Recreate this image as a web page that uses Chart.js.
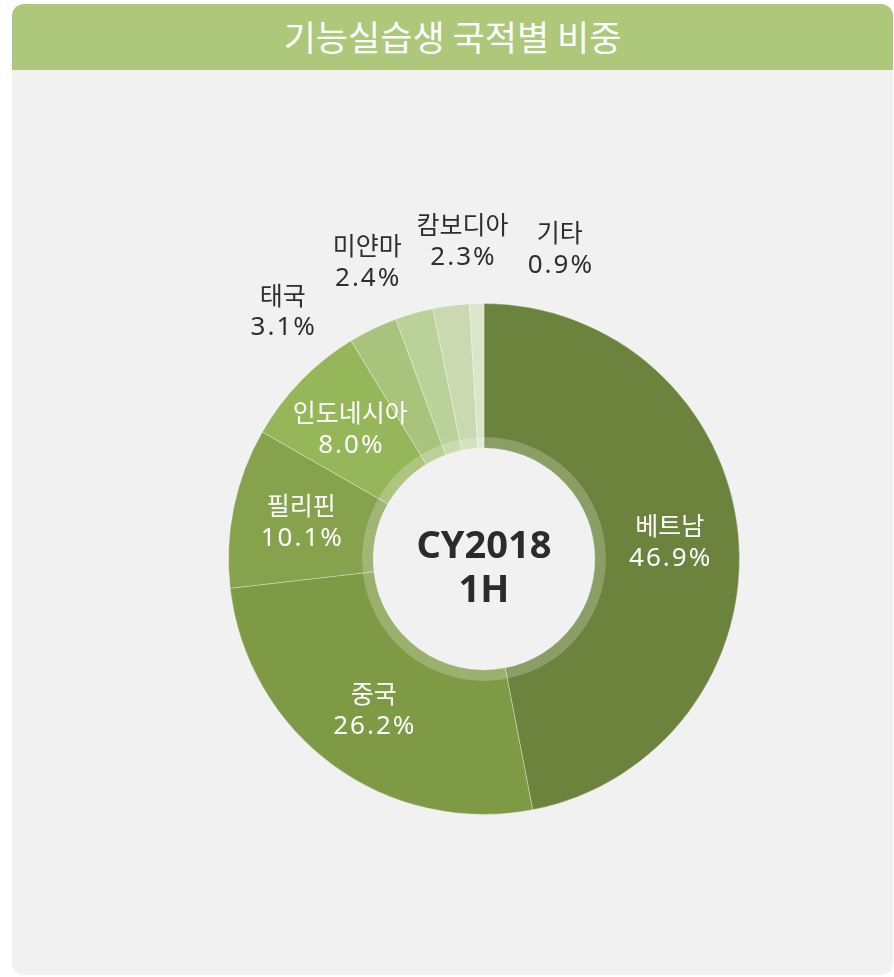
<!DOCTYPE html>
<html>
<head>
<meta charset="utf-8">
<script src="https://cdn.jsdelivr.net/npm/chart.js@4/dist/chart.umd.min.js"></script>
<style>
  html, body { margin: 0; padding: 0; background: #fff; }
  body { width: 894px; height: 977px; position: relative; overflow: hidden; font-family: "Noto Sans CJK KR", "Noto Sans", sans-serif; }
  .card { position: absolute; left: 12px; top: 4px; width: 881px; height: 971px; border-radius: 12px; overflow: hidden; background: #f1f1f1; }
  .title { height: 66px; background: #adc87a; color: #fff; font-size: 35px; line-height: 64px; text-align: center; }
  .wrap { position: absolute; left: 0; top: 66px; width: 880px; height: 905px; }
</style>
</head>
<body>
<div class="card">
  <div class="title">기능실습생 국적별 비중</div>
  <div class="wrap"><canvas id="nationChart" width="880" height="905"></canvas></div>
</div>
<script>
const countries = ['베트남', '중국', '필리핀', '인도네시아', '태국', '미얀마', '캄보디아', '기타']
const shares = [46.9, 26.2, 10.1, 8.0, 3.1, 2.4, 2.3, 0.9]
const sliceColors = ['#6b833c', '#7f9a45', '#87a24d', '#96b65a', '#a8c47c', '#bad19a', '#cad9b0', '#dbe5ca']
const centerLines = ['CY2018', '1H']

// translucent ring along the hole + center caption
const centerPlugin = {
    id: 'centerText',
    afterDatasetsDraw(chart) {
        const arc = chart.getDatasetMeta(0).data[0]
        const ctx = chart.ctx
        const r = arc.innerRadius
        ctx.save()
        ctx.beginPath()
        ctx.arc(arc.x, arc.y, r + 5.5, 0, Math.PI * 2)
        ctx.lineWidth = 11
        ctx.strokeStyle = 'rgba(255,255,255,0.22)'
        ctx.stroke()
        ctx.fillStyle = '#2b2b2b'
        ctx.font = 'bold 38px "Noto Sans", "Noto Sans CJK KR", sans-serif'
        ctx.textAlign = 'center'
        ctx.textBaseline = 'middle'
        ctx.fillText(centerLines[0], arc.x, arc.y - 12)
        ctx.fillText(centerLines[1], arc.x, arc.y + 32)
        ctx.restore()
    }
}

// labels: big slices inside (white), small ones outside (dark), spread apart
const labelPlugin = {
    id: 'sliceLabels',
    afterDatasetsDraw(chart) {
        const meta = chart.getDatasetMeta(0)
        const ctx = chart.ctx
        ctx.save()
        ctx.textAlign = 'center'
        ctx.textBaseline = 'middle'

        const outside = []
        meta.data.forEach((arc, i) => {
            const mid = (arc.startAngle + arc.endAngle) / 2
            if (shares[i] >= 5) {
                const r = arc.outerRadius * 0.73
                drawLabel(ctx, i, arc.x + Math.cos(mid) * r, arc.y + Math.sin(mid) * r, '#fff')
            } else {
                outside.push({ i, mid, arc })
            }
        })

        const gap = 17.6 * Math.PI / 180
        const mean = outside.reduce((s, o) => s + o.mid, 0) / outside.length
        outside.forEach((o, k) => {
            const a = mean + (k - (outside.length - 1) / 2) * gap
            const r = o.arc.outerRadius * 1.25
            drawLabel(ctx, o.i, o.arc.x + Math.cos(a) * r, o.arc.y + Math.sin(a) * r, '#2e2e2e')
        })
        ctx.restore()
    }
}

function drawLabel(ctx, i, x, y, color) {
    ctx.fillStyle = color
    ctx.letterSpacing = '0px'
    ctx.font = '25px "Noto Sans CJK KR", "Noto Sans", sans-serif'
    ctx.fillText(countries[i], x, y - 16)
    ctx.letterSpacing = '2px'
    ctx.font = '26px "Noto Sans", "Noto Sans CJK KR", sans-serif'
    ctx.fillText(shares[i].toFixed(1) + '%', x + 1, y + 17)
}

const ctx = document.querySelector('#nationChart')
const nationChart = new Chart(ctx, {
    type: 'doughnut',
    data: {
        labels: countries,
        datasets: [{
            data: shares,
            backgroundColor: sliceColors,
            borderColor: 'rgba(255,255,255,0.3)',
            borderWidth: 1,
            hoverOffset: 0
        }]
    },
    options: {
        responsive: false,
        animation: false,
        cutout: '43.4%',
        layout: { padding: { left: 216, right: 152, top: 233, bottom: 160 } },
        plugins: {
            legend: { display: false },
            tooltip: { enabled: false }
        }
    },
    plugins: [centerPlugin, labelPlugin]
})
</script>
</body>
</html>
